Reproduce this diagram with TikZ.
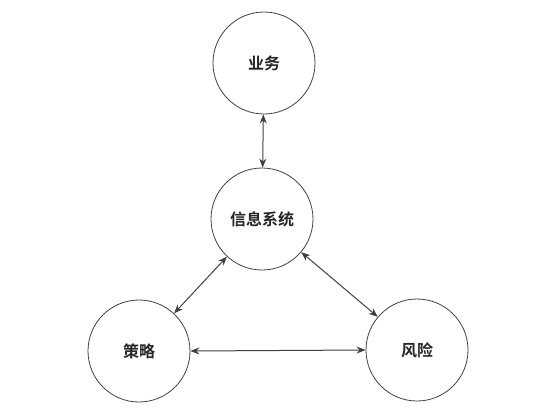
\documentclass[tikz,border=0pt]{standalone}
\usepackage{fontspec}
\usepackage{tikz}
\usetikzlibrary{arrows.meta}
\newfontfamily\cjk{Noto Sans CJK SC}[BoldFont={* Bold}]

\begin{document}
\begin{tikzpicture}[x=1pt,y=-1pt,
    ball/.style={circle,draw=black!75,line width=0.8pt,minimum size=102pt,
      inner sep=0pt,font=\cjk\bfseries\fontsize{16}{16}\selectfont,text=black!85},
    link/.style={{Stealth[length=9pt,width=7pt]}-{Stealth[length=9pt,width=7pt]},
      draw=black!75,line width=1pt}]
      \useasboundingbox (0,0) rectangle (539,416);
      \node[ball] (yewu) at (264,63) {业务};
      \node[ball] (xinxi) at (262,219) {信息系统};
      \node[ball] (celue) at (139,351) {策略};
      \node[ball] (fengxian) at (417,350) {风险};
      \draw[link] (yewu) -- (xinxi);
      \draw[link] (xinxi) -- (celue);
      \draw[link] (xinxi) -- (fengxian);
      \draw[link] (celue.east) -- (fengxian.west);
    \end{tikzpicture}
\end{document}
